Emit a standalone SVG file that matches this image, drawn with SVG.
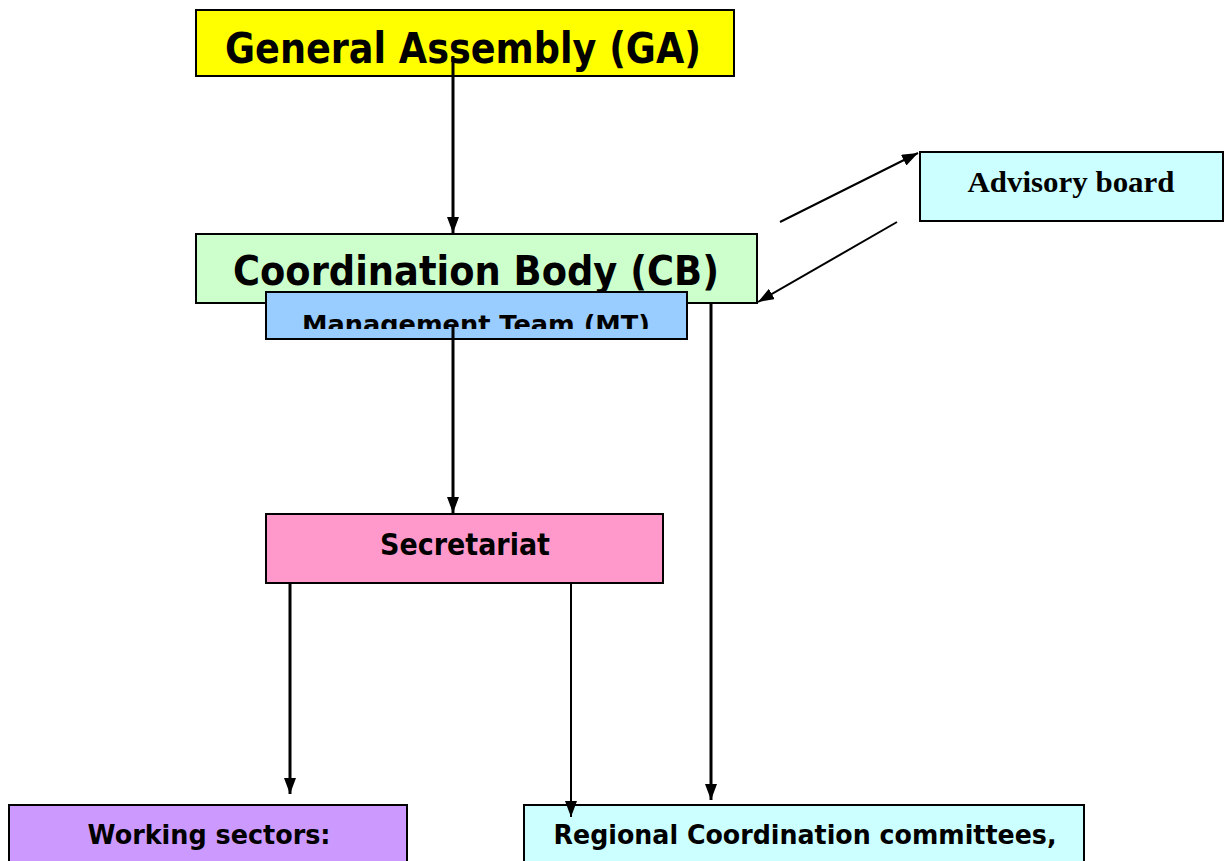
<svg xmlns="http://www.w3.org/2000/svg" width="1228" height="861" viewBox="0 0 1228 861">
<defs>
<style>
.box{stroke:#000;stroke-width:2}
.t{font-family:"DejaVu Sans","Liberation Sans",sans-serif;font-weight:bold;fill:#000;text-anchor:middle}
.tr{font-family:"Liberation Serif",serif;font-weight:bold;fill:#000;text-anchor:middle}
.c{stroke:#000;fill:none}
</style>
<marker id="ah" viewBox="0 0 10 10" refX="10" refY="5" markerWidth="16" markerHeight="12" preserveAspectRatio="none" markerUnits="userSpaceOnUse" orient="auto">
<path d="M0,0 L10,5 L0,10 Z" fill="#000"/>
</marker>
<clipPath id="mtclip"><rect x="266" y="292" width="421" height="37"/></clipPath>
</defs>
<rect width="1228" height="861" fill="#fff"/>
<g id="ga">
<rect class="box" x="196" y="10" width="538" height="66" fill="#FFFF00"/>
<text class="t" x="463" y="63" font-size="42" textLength="476" lengthAdjust="spacingAndGlyphs">General Assembly (GA)</text>
</g>
<g id="cb">
<rect class="box" x="196" y="234" width="561" height="69" fill="#CCFFCC"/>
<text class="t" x="476" y="285" font-size="41" textLength="486" lengthAdjust="spacingAndGlyphs">Coordination Body (CB)</text>
</g>
<g id="mt">
<rect class="box" x="266" y="292" width="421" height="47" fill="#99CCFF"/>
<text class="t" x="476" y="333" font-size="25" textLength="348" lengthAdjust="spacingAndGlyphs" clip-path="url(#mtclip)">Management Team (MT)</text>
</g>
<g id="advisory">
<rect class="box" x="920" y="152" width="303" height="69" fill="#CCFFFF"/>
<text class="tr" x="1071" y="192" font-size="29" textLength="207" lengthAdjust="spacingAndGlyphs">Advisory board</text>
</g>
<g id="secretariat">
<rect class="box" x="266" y="514" width="397" height="69" fill="#FF99CC"/>
<text class="t" x="465" y="555" font-size="30" textLength="170" lengthAdjust="spacingAndGlyphs">Secretariat</text>
</g>
<g id="working">
<rect class="box" x="9" y="805" width="398" height="70" fill="#CC99FF"/>
<text class="t" x="209" y="844" font-size="26" textLength="243" lengthAdjust="spacingAndGlyphs">Working sectors:</text>
</g>
<g id="regional">
<rect class="box" x="524" y="805" width="560" height="70" fill="#CCFFFF"/>
<text class="t" x="805" y="844" font-size="26" textLength="503" lengthAdjust="spacingAndGlyphs">Regional Coordination committees,</text>
</g>
<g id="connectors">
<line class="c" x1="453" y1="56" x2="453" y2="233" stroke-width="3" marker-end="url(#ah)"/>
<line class="c" x1="453" y1="326" x2="453" y2="513" stroke-width="3" marker-end="url(#ah)"/>
<line class="c" x1="780" y1="222" x2="918" y2="153" stroke-width="2" marker-end="url(#ah)"/>
<line class="c" x1="897" y1="222" x2="758" y2="302" stroke-width="2" marker-end="url(#ah)"/>
<line class="c" x1="711" y1="303" x2="711" y2="800" stroke-width="3" marker-end="url(#ah)"/>
<line class="c" x1="290" y1="584" x2="290" y2="794" stroke-width="3" marker-end="url(#ah)"/>
<line class="c" x1="571" y1="584" x2="571" y2="817" stroke-width="2" marker-end="url(#ah)"/>
</g>
</svg>
